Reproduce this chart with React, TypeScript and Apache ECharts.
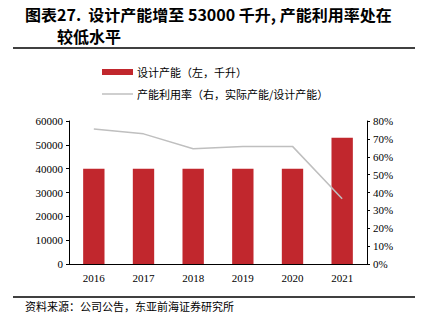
import React, { useEffect, useRef } from "react";
import * as echarts from "echarts";

const years = ["2016", "2017", "2018", "2019", "2020", "2021"];
const capacity = [40000, 40000, 40000, 40000, 40000, 53000];
const utilization = [75.5, 72.8, 64.5, 65.8, 65.8, 36.5];
const leftTicks = [0, 10000, 20000, 30000, 40000, 50000, 60000];
const barName = "设计产能（左，千升）";
const lineName = "产能利用率（右，实际产能/设计产能）";

const CJK = '"Noto Sans CJK SC", sans-serif';
const SERIF = '"Liberation Serif", "Times New Roman", serif';
const RED = "#C1272D";
const GRAY = "#BFBFBF";

export default function App() {
  const ref = useRef<HTMLDivElement>(null);
  useEffect(() => {
    if (!ref.current) return;
    const chart = echarts.init(ref.current, null, { renderer: "svg" });
    chart.setOption({
      animation: false,
      backgroundColor: "#ffffff",
      graphic: [
        {
          type: "text",
          left: 25,
          top: 6,
          style: {
            text: "图表27.  设计产能增至 53000 千升, 产能利用率处在",
            font: `bold 16px ${CJK}`,
            lineHeight: 16,
            fill: "#000",
          },
        },
        {
          type: "text",
          left: 57,
          top: 28,
          style: { text: "较低水平", font: `bold 16px ${CJK}`, lineHeight: 16, fill: "#000" },
        },
        {
          type: "line",
          shape: { x1: 13, y1: 48, x2: 415, y2: 48 },
          style: { stroke: "#000", lineWidth: 1.5 },
        },
        {
          type: "rect",
          shape: { x: 102, y: 69, width: 31, height: 6 },
          style: { fill: RED },
        },
        {
          type: "text",
          left: 137,
          top: 66,
          style: { text: barName, font: `11px ${CJK}`, lineHeight: 12, fill: "#000" },
        },
        {
          type: "line",
          shape: { x1: 102, y1: 94, x2: 133, y2: 94 },
          style: { stroke: GRAY, lineWidth: 1.5 },
        },
        {
          type: "text",
          left: 137,
          top: 88,
          style: { text: lineName, font: `11px ${CJK}`, lineHeight: 12, fill: "#000" },
        },
        {
          type: "line",
          shape: { x1: 13, y1: 297, x2: 415, y2: 297 },
          style: { stroke: "#000", lineWidth: 1.5 },
        },
        {
          type: "text",
          left: 25,
          top: 300,
          style: {
            text: "资料来源：公司公告，东亚前海证券研究所",
            font: `11px ${CJK}`,
            lineHeight: 12,
            fill: "#000",
          },
        },
      ],
      grid: { left: 69, right: 58, top: 121, bottom: 65, containLabel: false },
      xAxis: {
        type: "category",
        data: years,
        axisLine: { lineStyle: { color: "#000", width: 1 } },
        axisTick: { show: false },
        axisLabel: { fontFamily: SERIF, fontSize: 11, color: "#000", margin: 8 },
      },
      yAxis: [
        {
          type: "value",
          min: leftTicks[0],
          max: leftTicks[leftTicks.length - 1],
          interval: 10000,
          axisLine: { show: true, lineStyle: { color: "#000" } },
          axisTick: { show: true, length: 3, lineStyle: { color: "#000" } },
          axisLabel: {
            fontFamily: SERIF,
            fontSize: 11,
            color: "#000",
            margin: 6,
            formatter: (v: number) => String(v),
          },
          splitLine: { show: false },
        },
        {
          type: "value",
          min: 0,
          max: 80,
          interval: 10,
          position: "right",
          axisLine: { show: true, lineStyle: { color: "#000" } },
          axisTick: { show: true, length: 3, lineStyle: { color: "#000" } },
          axisLabel: {
            fontFamily: SERIF,
            fontSize: 11,
            color: "#000",
            margin: 6,
            formatter: (v: number) => v + "%",
          },
          splitLine: { show: false },
        },
      ],
      series: [
        {
          name: barName,
          type: "bar",
          data: capacity,
          barWidth: "43%",
          itemStyle: { color: RED },
        },
        {
          name: lineName,
          type: "line",
          yAxisIndex: 1,
          data: utilization,
          symbol: "none",
          lineStyle: { color: GRAY, width: 1.5 },
          itemStyle: { color: GRAY },
        },
      ],
    });
    return () => chart.dispose();
  }, []);
  return <div ref={ref} style={{ width: 425, height: 329, margin: -8 }} />;
}
